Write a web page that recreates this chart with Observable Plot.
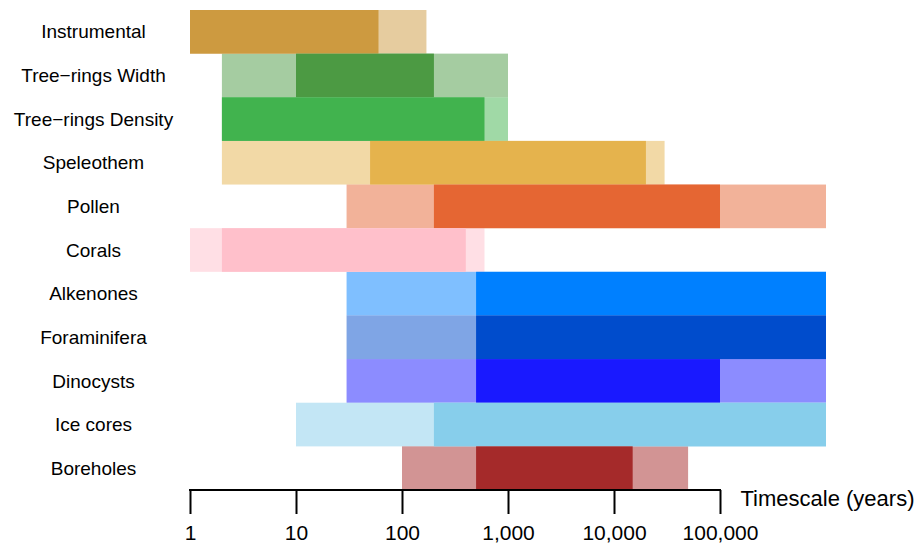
<!DOCTYPE html>
<html><head><meta charset="utf-8">
<script src="https://cdn.jsdelivr.net/npm/d3@7"></script>
<script src="https://cdn.jsdelivr.net/npm/@observablehq/plot@0.6"></script>
<style>body{margin:0;background:#fff} #chart svg{display:block}</style>
</head><body><div id="chart"></div>
<script>
const proxies = ["Instrumental", "Tree\u2212rings Width", "Tree\u2212rings Density", "Speleothem", "Pollen", "Corals",
  "Alkenones", "Foraminifera", "Dinocysts", "Ice cores", "Boreholes"];
// outer (pale) range and inner (strong) range, in years
const lightLow  = [1,   2,    2,    2,     30,     1,   30,      30,      30,     10,      100];
const darkLow   = [1,   10,   2,    50,    200,    2,   500,     500,     500,    200,     500];
const darkHigh  = [60,  200,  600,  20000, 100000, 400, 1000000, 1000000, 100000, 1000000, 15000];
const lightHigh = [170, 1000, 1000, 30000, 1000000, 600, 1000000, 1000000, 1000000, 1000000, 50000];
const colors = ["#CD9A40", "#4C9A43", "#41B34E", "#E5B34D", "#E56633", "#FFC0CB",
  "#0080FF", "#004CCC", "#1919FF", "#87CEEB", "#A52A2A"];
const xTicks = [1, 10, 100, 1000, 10000, 100000];
const axisTitle = "Timescale (years)";

const rows = proxies.map((p, i) => ({
  proxy: p, lightLow: lightLow[i], darkLow: darkLow[i], darkHigh: darkHigh[i], lightHigh: lightHigh[i], color: colors[i]
}));

const chart = Plot.plot({
  width: 920, height: 543,
  marginTop: 10, marginBottom: 53, marginLeft: 190, marginRight: 94,
  style: {fontFamily: "'Liberation Sans', Arial, Helvetica, sans-serif", background: "white", color: "black"},
  x: {type: "log", domain: [1, 1e6]},
  y: {domain: proxies, padding: 0, round: false},
  color: {type: "identity"},
  marks: [
    Plot.barX(rows, {y: "proxy", x1: "lightLow", x2: "lightHigh", fill: "color", fillOpacity: 0.5}),
    Plot.barX(rows, {y: "proxy", x1: "darkLow", x2: "darkHigh", fill: "color"}),
    Plot.axisY({tickSize: 0, tickPadding: 97, textAnchor: "middle", fontSize: 19, label: null, fill: "black"}),
    Plot.axisX({ticks: xTicks, tickFormat: d3.format(","), tickSize: 24, tickPadding: 11, fontSize: 21,
      strokeWidth: 2, stroke: "black", fill: "black", label: null}),
    Plot.text([axisTitle], {x: xTicks[xTicks.length - 1], frameAnchor: "bottom", dx: 20, dy: 15,
      textAnchor: "start", fontSize: 22, fill: "black"})
  ]
});

// axis baseline spanning the tick range, placed via the plot's own x scale
const sx = chart.scale("x");
d3.select(chart).append("line")
  .attr("x1", sx.apply(xTicks[0]) - 1).attr("x2", sx.apply(xTicks[xTicks.length - 1]) + 1)
  .attr("y1", 543 - 53).attr("y2", 543 - 53)
  .attr("stroke", "black").attr("stroke-width", 2);

document.getElementById("chart").append(chart);
</script>
</body></html>
